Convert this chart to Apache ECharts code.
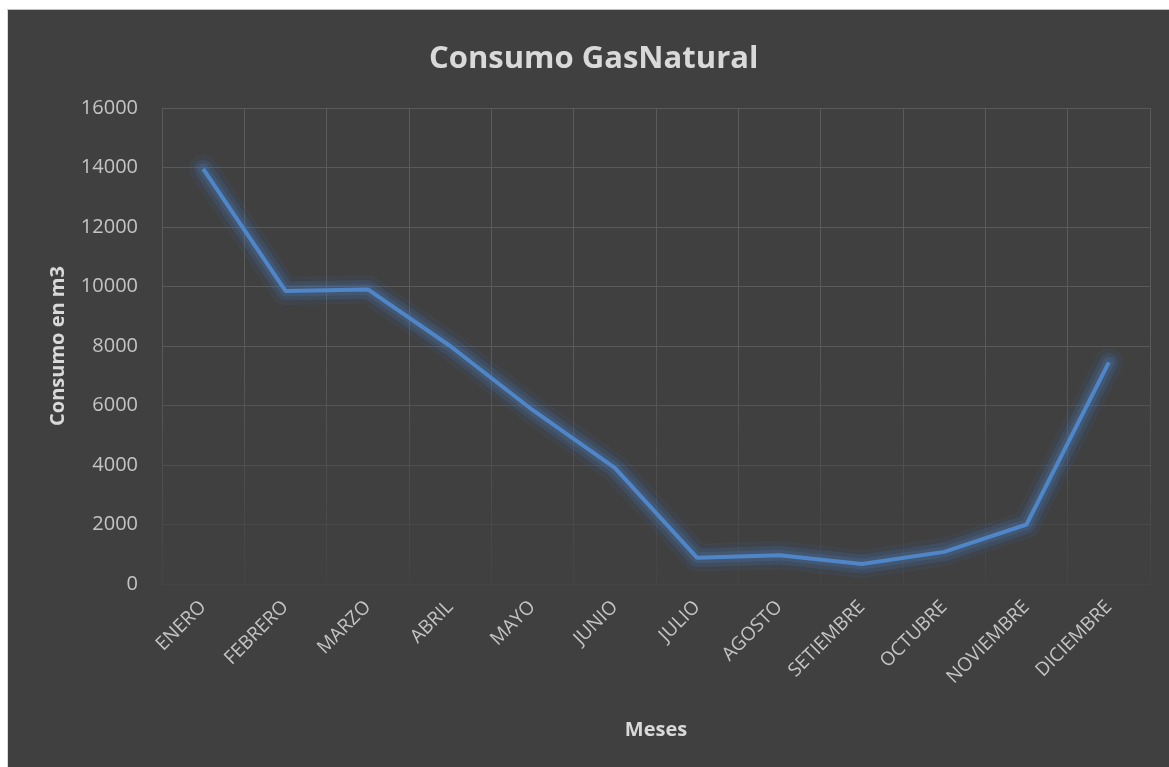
<!DOCTYPE html>
<html>
<head>
<meta charset="utf-8">
<script src="https://cdn.jsdelivr.net/npm/echarts@6/dist/echarts.min.js"></script>
<style>
  html, body { margin: 0; padding: 0; background: #ffffff; }
  #frame {
    position: absolute; left: 7px; top: 9px;
    width: 1161px; height: 757px;
    border-left: 1px solid #d9d9d9; border-top: 1px solid #bfbfbf;
    background: #404040;
  }
  #chart { width: 1161px; height: 757px; }
</style>
</head>
<body>
<div id="frame"><div id="chart"></div></div>
<script>
// Monthly natural gas consumption (m3)
const meses = ['ENERO', 'FEBRERO', 'MARZO', 'ABRIL', 'MAYO', 'JUNIO', 'JULIO',
               'AGOSTO', 'SETIEMBRE', 'OCTUBRE', 'NOVIEMBRE', 'DICIEMBRE'];
const consumo = [13950, 9850, 9900, 8000, 5850, 3900, 880, 970, 670, 1080, 2000, 7450];
const yTicks = { min: 0, max: 16000, interval: 2000 };

const FONT = '"Open Sans", "Noto Sans", sans-serif';
const TEXT = '#d9d9d9';
const LABEL = '#c4c4c4';
const GRID = '#5a5a5a';

const chart = echarts.init(document.getElementById('chart'), null, { renderer: 'canvas' });

// soft glow layers drawn under the main line, widest first
const halo = [
  { width: 28, alpha: 0.09 },
  { width: 19, alpha: 0.13 },
  { width: 11, alpha: 0.18 }
].map(h => ({
  type: 'line',
  data: consumo,
  z: 2,
  symbol: 'none',
  silent: true,
  lineStyle: {
    color: `rgba(80,135,205,${h.alpha})`, width: h.width, join: 'round', cap: 'round',
    shadowColor: `rgba(80,135,205,${h.alpha})`, shadowBlur: 8
  }
}));

chart.setOption({
  backgroundColor: '#404040',
  animation: false,
  title: {
    text: 'Consumo GasNatural',
    left: 416, top: 29,
    textStyle: { color: TEXT, fontFamily: FONT, fontWeight: 'bold', fontSize: 31 }
  },
  grid: { left: 154, top: 98, right: 19, bottom: 183, containLabel: false },
  xAxis: {
    type: 'category',
    data: meses,
    boundaryGap: true,
    axisLine: { show: false },
    axisTick: { show: false },
    splitLine: { show: true, lineStyle: { color: GRID, width: 1 } },
    axisLabel: {
      rotate: 45, margin: 20, interval: 0,
      color: LABEL, fontFamily: FONT, fontSize: 19
    },
    name: 'Meses',
    nameLocation: 'middle',
    nameGap: 136,
    nameTextStyle: { color: TEXT, fontFamily: FONT, fontWeight: 'bold', fontSize: 20 }
  },
  yAxis: {
    type: 'value',
    min: yTicks.min, max: yTicks.max, interval: yTicks.interval,
    axisLine: { show: false },
    axisTick: { show: false },
    splitLine: { show: true, lineStyle: { color: GRID, width: 1 } },
    axisLabel: {
      margin: 24, color: LABEL, fontFamily: FONT, fontSize: 20,
      formatter: v => String(v)
    },
    name: 'Consumo en m3',
    nameLocation: 'middle',
    nameGap: 94,
    nameTextStyle: { color: TEXT, fontFamily: FONT, fontWeight: 'bold', fontSize: 20 }
  },
  // soft fade of the gridlines toward the bottom of the plot
  graphic: [{
    type: 'rect', z: 1, silent: true,
    shape: { x: 150, y: 330, width: 996, height: 247 },
    style: {
      fill: new echarts.graphic.LinearGradient(0, 0, 0, 1, [
        { offset: 0, color: 'rgba(64,64,64,0)' },
        { offset: 1, color: 'rgba(64,64,64,0.85)' }
      ])
    }
  }],
  series: halo.concat([{
    type: 'line',
    name: 'Consumo',
    data: consumo,
    z: 3,
    symbol: 'none',
    lineStyle: { color: '#4f86c8', width: 4 }
  }])
});
</script>
</body>
</html>
